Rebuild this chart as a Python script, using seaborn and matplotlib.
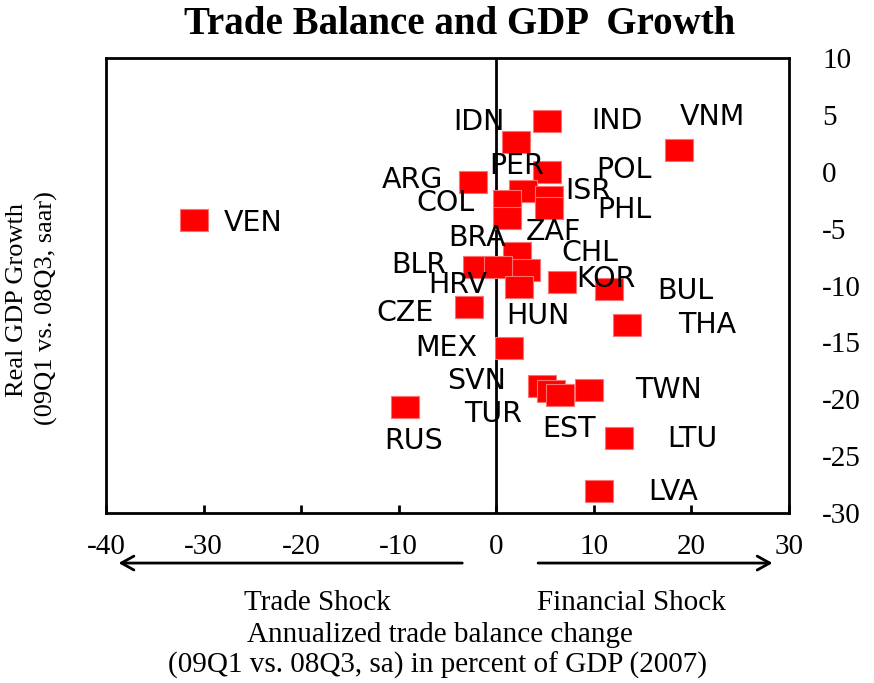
import numpy as np
import pandas as pd
import matplotlib
matplotlib.use('Agg')
import matplotlib.pyplot as plt
from matplotlib.path import Path
import seaborn as sns

# data
countries = ['VEN', 'IDN', 'IND', 'VNM', 'POL', 'PER', 'ARG', 'ISR', 'PHL', 'COL',
             'BRA', 'ZAF', 'CHL', 'BLR', 'HRV', 'HUN', 'KOR', 'BUL', 'CZE', 'THA',
             'MEX', 'SVN', 'TUR', 'EST', 'TWN', 'RUS', 'LTU', 'LVA']
trade_balance = [-31.0, 2.05, 5.2, 18.75, 5.2, 2.75, -2.35, 5.4, 5.4, 1.1,
                 1.1, 2.15, 3.05, -1.95, 0.2, 2.35, 6.75, 11.6, -2.75, 13.4,
                 1.3, 4.7, 5.6, 6.55, 9.55, -9.4, 12.6, 10.55]
gdp_growth = [-4.2, 2.6, 4.5, 1.9, 0.0, -1.7, -0.9, -2.2, -3.2, -2.6,
              -4.1, -7.1, -8.6, -8.4, -8.4, -10.1, -9.7, -10.3, -11.9, -13.5,
              -15.5, -18.8, -19.3, -19.6, -19.2, -20.7, -23.4, -28.1]
x_ticks = [-40, -30, -20, -10, 0, 10, 20, 30]
y_ticks = [10, 5, 0, -5, -10, -15, -20, -25, -30]

# label offsets from each point, in pixels
label_offsets = {
    'VEN': (59, -3), 'IDN': (-37, 20), 'IND': (70, 0), 'VNM': (33, 33),
    'POL': (77, 2), 'PER': (-6, 25), 'ARG': (-61, 2), 'ISR': (39, 6),
    'PHL': (75, -2), 'COL': (-62, -2), 'BRA': (-30, -20), 'ZAF': (36, 21),
    'CHL': (64, 17), 'BLR': (-58, 2), 'HRV': (-40, -18), 'HUN': (19, -29),
    'KOR': (44, 3), 'BUL': (76, -2), 'CZE': (-64, -6), 'THA': (80, 0),
    'MEX': (-63, 0), 'SVN': (-66, 5), 'TUR': (-58, -23), 'EST': (9, -34),
    'TWN': (79, 0), 'RUS': (9, -34), 'LTU': (73, -1), 'LVA': (74, -1),
}

df = pd.DataFrame({'country': countries, 'tb': trade_balance, 'gdp': gdp_growth})

sns.set_style('white')
plt.rcParams['axes.unicode_minus'] = False
plt.rcParams['text.color'] = 'black'
plt.rcParams['xtick.color'] = 'black'
plt.rcParams['ytick.color'] = 'black'
serif = ['Liberation Serif', 'DejaVu Serif']
sans = ['DejaVu Sans']

fig = plt.figure(figsize=(8.74, 6.83), dpi=100)
ax = fig.add_axes([106 / 874, 1 - 513 / 683, (789 - 106) / 874, (513 - 58) / 683])

rect = Path([(-1.35, -1), (1.35, -1), (1.35, 1), (-1.35, 1), (-1.35, -1)], closed=True)
sns.scatterplot(data=df, x='tb', y='gdp', ax=ax, marker=rect, s=420,
                color='#ff0000', edgecolor='#ff7070', linewidth=0.8, zorder=3)

for name, x, y in zip(countries, trade_balance, gdp_growth):
    dx, dy = label_offsets[name]
    ax.annotate(name, (x, y), xytext=(dx, dy), textcoords='offset pixels',
                ha='center', va='center', fontsize=20.5, family=sans,
                color='black', zorder=4)

ax.axvline(0, color='black', lw=2, zorder=2)
ax.set_xlim(-40, 30)
ax.set_ylim(-30, 10)
ax.set_xticks(x_ticks)
ax.set_yticks(y_ticks)
ax.set_xlabel('')
ax.set_ylabel('')
for s in ax.spines.values():
    s.set_visible(True)
    s.set_color('black')
    s.set_linewidth(2)

ax.yaxis.tick_right()
ax.tick_params(axis='x', direction='in', length=6, width=2, pad=15, bottom=True)
ax.tick_params(axis='y', length=0, pad=24)
for lab in ax.get_xticklabels() + ax.get_yticklabels():
    lab.set_family(serif)
    lab.set_fontsize(21)

# arrows below the axis
ax.annotate('', xy=(-39.0, -34.4), xytext=(-3.2, -34.4), annotation_clip=False,
            arrowprops=dict(arrowstyle='->,head_length=0.9,head_width=0.5', lw=2, color='black'))
ax.annotate('', xy=(28.6, -34.4), xytext=(4.0, -34.4), annotation_clip=False,
            arrowprops=dict(arrowstyle='->,head_length=0.9,head_width=0.5', lw=2, color='black'))
ax.text(-18.3, -37.9, 'Trade Shock', ha='center', va='center', fontsize=21,
        family=serif, clip_on=False)
ax.text(13.8, -37.9, 'Financial Shock', ha='center', va='center', fontsize=21,
        family=serif, clip_on=False)

fig.text(440 / 874, 1 - 635 / 683, 'Annualized trade balance change', ha='center',
         va='center', fontsize=21, family=serif)
fig.text(437 / 874, 1 - 665 / 683, '(09Q1 vs. 08Q3, sa) in percent of GDP (2007)',
         ha='center', va='center', fontsize=21, family=serif)
fig.text(17 / 874, 1 - 300 / 683, 'Real GDP Growth', rotation=90, ha='center',
         va='center', fontsize=19, family=serif)
fig.text(46 / 874, 1 - 308 / 683, '(09Q1 vs. 08Q3, saar)', rotation=90, ha='center',
         va='center', fontsize=19, family=serif)
fig.text(460 / 874, 1 - 24 / 683, 'Trade Balance and GDP  Growth', ha='center',
         va='center', fontsize=28, fontweight='bold', family=serif)

fig.savefig('out.png', dpi=100)
